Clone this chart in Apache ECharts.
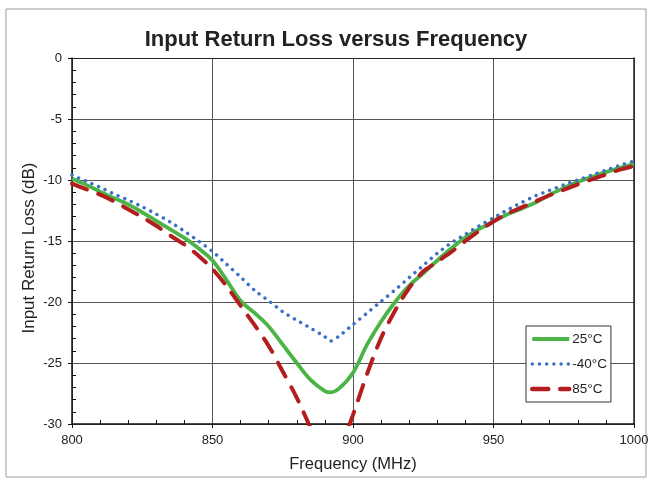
<!DOCTYPE html>
<html>
<head>
<meta charset="utf-8">
<script src="https://cdn.jsdelivr.net/npm/echarts@6/dist/echarts.min.js"></script>
<style>html,body{margin:0;padding:0;background:#fff}#c{width:652px;height:481px}</style>
</head>
<body>
<div id="c"></div>
<script>
var freq = [800,805,810,815,820,825,830,835,840,845,850,855,860,865,870,875,880,885,890,892,895,900,905,910,915,920,925,930,935,940,945,950,955,960,965,970,975,980,985,990,995,1000];
var rl25 = [-9.9,-10.4,-10.95,-11.5,-12.0,-12.65,-13.35,-14.05,-14.75,-15.6,-16.6,-18.2,-19.9,-20.9,-22.0,-23.5,-25.0,-26.4,-27.3,-27.4,-27.1,-25.8,-23.5,-21.6,-20.0,-18.65,-17.65,-16.6,-15.6,-14.7,-14.0,-13.4,-12.8,-12.35,-11.85,-11.2,-10.65,-10.15,-9.75,-9.35,-9.0,-8.7];
var rlm40 = [-9.6,-10.1,-10.6,-11.15,-11.65,-12.2,-12.8,-13.45,-14.2,-15.0,-15.85,-16.9,-17.95,-19.05,-19.9,-20.8,-21.5,-22.15,-22.85,-23.2,-22.8,-21.85,-20.9,-19.95,-19.0,-18.0,-17.0,-16.0,-15.15,-14.45,-13.75,-13.1,-12.45,-11.85,-11.3,-10.85,-10.4,-10.0,-9.6,-9.2,-8.8,-8.45];
var rl85 = [-10.3,-10.75,-11.2,-11.75,-12.4,-13.05,-13.75,-14.55,-15.3,-16.2,-17.3,-18.7,-20.3,-21.9,-23.6,-25.7,-27.85,-30.4,-33.2,-33.8,-32.3,-29.25,-25.9,-22.95,-20.7,-18.85,-17.5,-16.7,-15.9,-15.0,-14.15,-13.4,-12.75,-12.25,-11.75,-11.25,-10.8,-10.35,-9.95,-9.55,-9.15,-8.85];
var seriesNames = ['25°C','-40°C','85°C'];
var xTicks = [800, 850, 900, 950, 1000];
var yTicks = [0, -5, -10, -15, -20, -25, -30];

function pairs(v){ return freq.map(function(f,i){ return [f, v[i]]; }); }

var chart = echarts.init(document.getElementById('c'), null, {renderer:'canvas'});
var FONT = 'Liberation Sans, Arial, sans-serif';
chart.setOption({
  animation:false,
  backgroundColor:'#fff',
  title:{
    text:'Input Return Loss versus Frequency',
    left:331, top:24, textAlign:'center',
    textStyle:{fontFamily:FONT,fontSize:22,fontWeight:'bold',color:'#222'}
  },
  graphic:[
    {type:'rect', shape:{x:6,y:9,width:640,height:468}, style:{fill:'none',stroke:'#9a9a9a',lineWidth:1}, silent:true, z:-1},
    {type:'text', x:29, y:248, rotation:Math.PI/2, style:{text:'Input Return Loss (dB)', fontFamily:FONT, fontSize:17, fill:'#222', textAlign:'center', textVerticalAlign:'middle'}}
  ],
  grid:{left:72, right:18, top:58, bottom:57, show:false},
  legend:{
    orient:'vertical', left:526, top:326,
    backgroundColor:'#fff', borderColor:'#333', borderWidth:1,
    padding:[6,4,6,4], itemWidth:37, itemHeight:8, itemGap:11,
    itemStyle:{opacity:0, borderWidth:0},
    textStyle:{fontFamily:FONT,fontSize:13.5,color:'#222',padding:[0,0,0,-2]},
    data:[
      {name:seriesNames[0], lineStyle:{width:4}},
      {name:seriesNames[1], lineStyle:{width:3.5}},
      {name:seriesNames[2], lineStyle:{width:4.5}}
    ]
  },
  xAxis:[{
    type:'value', min:800, max:1000, interval:50,
    name:'Frequency (MHz)', nameLocation:'middle', nameGap:32,
    nameTextStyle:{fontFamily:FONT,fontSize:16.5,color:'#222'},
    axisLine:{show:true,onZero:false,lineStyle:{color:'#111',width:1.5}},
    axisTick:{show:true,length:4,lineStyle:{color:'#111'}},
    minorTick:{show:true,splitNumber:5,length:-4,lineStyle:{color:'#111'}},
    axisLabel:{fontFamily:FONT,fontSize:13,color:'#222',margin:10,
      formatter:function(v){ return xTicks.indexOf(v)>=0 ? String(v) : ''; }},
    splitLine:{show:true,lineStyle:{color:'#555',width:1}}
  },{
    type:'value', min:800, max:1000, position:'top',
    axisLine:{show:true,onZero:false,lineStyle:{color:'#222',width:1}},
    axisTick:{show:false}, axisLabel:{show:false}, splitLine:{show:false}
  }],
  yAxis:[{
    type:'value', min:-30, max:0, interval:5,
    axisLine:{show:true,onZero:false,lineStyle:{color:'#111',width:1.5}},
    axisTick:{show:true,length:4,lineStyle:{color:'#111'}},
    minorTick:{show:true,splitNumber:5,length:-4,lineStyle:{color:'#111'}},
    axisLabel:{fontFamily:FONT,fontSize:13,color:'#222',margin:10,
      formatter:function(v){ return yTicks.indexOf(v)>=0 ? String(v) : ''; }},
    splitLine:{show:true,lineStyle:{color:'#555',width:1}}
  },{
    type:'value', min:-30, max:0, position:'right',
    axisLine:{show:true,onZero:false,lineStyle:{color:'#222',width:1.5}},
    axisTick:{show:false}, axisLabel:{show:false}, splitLine:{show:false}
  }],
  series:[
    {name:seriesNames[0], type:'line', data:pairs(rl25), symbol:'none', smooth:0.35, clip:true, z:3,
     lineStyle:{color:'#4CB447', width:3.8}, itemStyle:{color:'#4CB447'}},
    {name:seriesNames[1], type:'line', data:pairs(rlm40), symbol:'none', smooth:0.25, clip:true, z:4,
     lineStyle:{color:'#3A72C4', width:3.5, type:[0.01,7.2], cap:'round'}, itemStyle:{color:'#3A72C4'}},
    {name:seriesNames[2], type:'line', data:pairs(rl85), symbol:'none', smooth:0.3, clip:true, z:5,
     lineStyle:{color:'#B21D1D', width:4, type:[16,12], cap:'round'}, itemStyle:{color:'#B21D1D'}}
  ]
});
</script>
</body>
</html>
